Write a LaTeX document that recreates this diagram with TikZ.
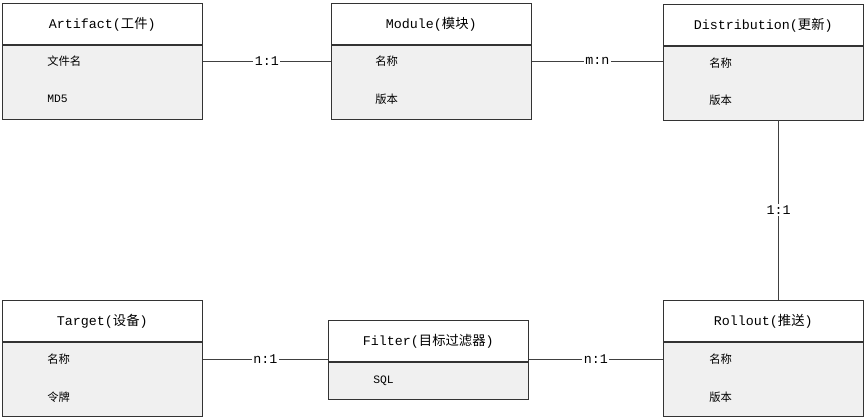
\documentclass[tikz,border=0pt]{standalone}
\usepackage{fontspec}
\usepackage{tikz}
\setmainfont{Liberation Mono}
\newfontfamily\cjk{Noto Sans CJK SC}
\newcommand{\zh}[1]{{\cjk #1}}
\usetikzlibrary{positioning}

\begin{document}
\begin{tikzpicture}
 [x=0.75pt,y=-0.75pt,
  hdr/.style={draw=black!80,fill=white,minimum width=150pt,minimum height=31pt,
   inner sep=0pt,anchor=north west,font=\fontsize{10}{12}\selectfont},
  bdy/.style={draw=black!80,fill=black!6,minimum width=150pt,inner sep=0pt,anchor=north},
  row/.style={anchor=west,inner sep=0pt,font=\fontsize{8.5}{10}\selectfont},
  conn/.style={draw=black!75,line width=0.6pt},
  lbl/.style={fill=white,inner sep=1pt,font=\fontsize{10}{12}\selectfont}]
 \useasboundingbox (0,0) rectangle (865,418);
 % entities
 \foreach \name/\x/\y/\title in {art/2/3/{Artifact(\zh{工件})},mod/331/3/{Module(\zh{模块})},
   dist/663/4/{Distribution(\zh{更新})},tgt/2/300/{Target(\zh{设备})},roll/663/300/{Rollout(\zh{推送})}}
 {
  \node[hdr] (\name-h) at (\x,\y) {\title};
  \node[bdy,minimum height=55.5pt] (\name-b) at (\name-h.south) {};
 }
 \node[hdr] (flt-h) at (328,320) {Filter(\zh{目标过滤器})};
 \node[bdy,minimum height=28pt] (flt-b) at (flt-h.south) {};
 % fields
 \foreach \name/\x/\y/\txt in {art-1/47/61/\zh{文件名},art-2/47/99/MD5,mod-1/375/61/\zh{名称},mod-2/375/99/\zh{版本},
   dist-1/709/63/\zh{名称},dist-2/709/100/\zh{版本},tgt-1/47/359/\zh{名称},tgt-2/47/397/\zh{令牌},
   flt-1/373/381/SQL,roll-1/709/359/\zh{名称},roll-2/709/397/\zh{版本}}
  \node[row] (\name) at (\x,\y) {\txt};
 % relations
 \draw[conn] (art-b.east |- art-1) -- node[lbl] {1:1} (mod-b.west |- art-1);
 \draw[conn] (mod-b.east |- mod-1) -- node[lbl] {m:n} (dist-b.west |- mod-1);
 \draw[conn] ([xshift=11.6pt]dist-b.south) -- node[lbl] {1:1} ([xshift=11.6pt]roll-h.north);
 \draw[conn] (tgt-b.east |- tgt-1) -- node[lbl] {n:1} (flt-h.west |- tgt-1);
 \draw[conn] (flt-h.east |- tgt-1) -- node[lbl] {n:1} (roll-b.west |- tgt-1);
\end{tikzpicture}
\end{document}
